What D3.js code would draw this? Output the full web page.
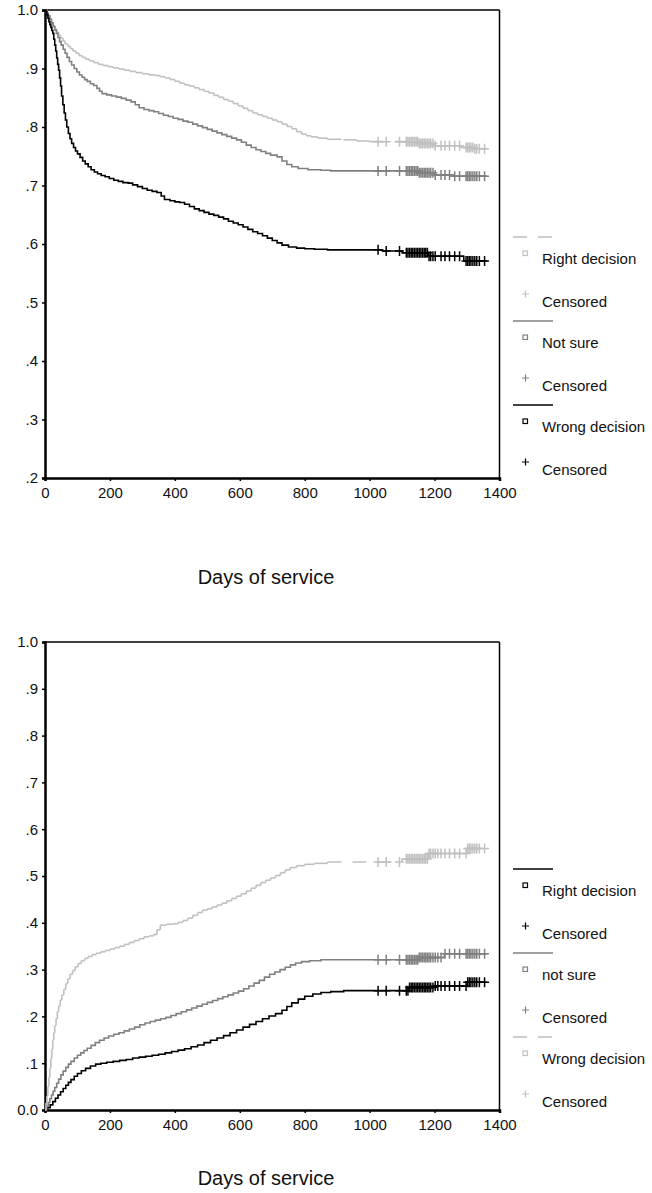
<!DOCTYPE html>
<html>
<head>
<meta charset="utf-8">
<script src="https://cdn.jsdelivr.net/npm/d3@7"></script>
<style>
  body { margin: 0; background: #fff; }
  svg { display: block; font-family: "Liberation Sans", Arial, sans-serif; }
</style>
</head>
<body>
<div id="chart"></div>
<script>
// ---- dati (giorni / valori della funzione a gradini) ----
const xTicks = [0, 200, 400, 600, 800, 1000, 1200, 1400];
const topYTicks = [0.2, 0.3, 0.4, 0.5, 0.6, 0.7, 0.8, 0.9, 1.0];
const bottomYTicks = [0, 0.1, 0.2, 0.3, 0.4, 0.5, 0.6, 0.7, 0.8, 0.9, 1.0];
const lastDay = 1362;

// grafico superiore: sopravvivenza
const rightTopDays = [0, 5, 10, 15, 20, 25, 30, 36, 42, 48, 55, 62, 70, 78, 86, 95, 105, 115, 125, 137, 150, 165, 180, 195, 210, 228, 245, 262, 280, 300, 320, 340, 355, 370, 385, 400, 415, 430, 445, 460, 475, 490, 505, 520, 535, 550, 565, 580, 595, 610, 625, 640, 655, 670, 685, 700, 715, 730, 745, 760, 775, 790, 805, 820, 840, 870, 920, 960, 1000, 1150, 1200, 1280, 1320];
const rightTopVals = [1, .995, .99, .984, .978, .972, .967, .962, .957, .952, .947, .942, .938, .934, .93, .926, .922, .919, .916, .913, .91, .907, .905, .903, .901, .899, .897, .895, .893, .891, .889, .888, .886, .884, .881, .878, .875, .872, .87, .867, .864, .861, .858, .854, .851, .847, .844, .84, .836, .832, .828, .824, .821, .818, .815, .812, .809, .805, .801, .797, .792, .788, .785, .783, .781, .779, .778, .776, .775, .772, .768, .765, .763];

const notSureTopDays = [0, 5, 10, 15, 20, 25, 30, 35, 40, 45, 50, 56, 62, 68, 75, 82, 90, 98, 106, 114, 122, 130, 140, 150, 160, 168, 176, 190, 205, 220, 235, 250, 265, 278, 290, 305, 320, 335, 350, 365, 380, 395, 410, 425, 440, 455, 470, 485, 500, 515, 530, 545, 560, 575, 590, 605, 620, 635, 650, 665, 680, 695, 715, 730, 745, 760, 780, 810, 850, 880, 1150, 1200, 1260];
const notSureTopVals = [1, .995, .99, .984, .978, .972, .966, .96, .953, .946, .94, .933, .926, .919, .912, .906, .9, .894, .889, .885, .881, .878, .874, .871, .866, .861, .857, .855, .853, .851, .849, .846, .843, .838, .833, .83, .828, .826, .823, .82, .818, .815, .813, .81, .808, .805, .802, .799, .796, .793, .79, .787, .784, .781, .778, .774, .769, .765, .761, .758, .755, .752, .749, .742, .736, .732, .729, .727, .726, .725, .722, .718, .716];

const wrongTopDays = [0, 3, 6, 9, 12, 15, 18, 21, 24, 27, 30, 33, 36, 39, 42, 45, 48, 51, 55, 59, 63, 67, 72, 77, 82, 88, 94, 100, 108, 116, 124, 133, 142, 152, 162, 173, 185, 198, 212, 226, 240, 256, 270, 285, 300, 315, 330, 345, 358, 368, 385, 400, 415, 430, 445, 460, 475, 490, 505, 520, 535, 550, 565, 580, 595, 610, 625, 640, 655, 670, 685, 700, 715, 730, 750, 775, 800, 830, 870, 1040, 1100, 1180, 1290];
const wrongTopVals = [1, .997, .992, .986, .98, .975, .97, .965, .96, .95, .94, .93, .918, .907, .897, .884, .87, .853, .838, .824, .812, .8, .789, .78, .772, .765, .759, .754, .748, .742, .737, .732, .727, .723, .72, .717, .715, .712, .709, .707, .705, .704, .701, .698, .695, .692, .69, .688, .682, .676, .674, .672, .671, .668, .664, .66, .657, .654, .651, .649, .646, .643, .639, .636, .633, .629, .625, .621, .618, .614, .61, .606, .602, .598, .595, .593, .592, .591, .59, .588, .585, .579, .571];

const censorDaysTop = [1026, 1051, 1092, 1113, 1118, 1123, 1128, 1133, 1138, 1143, 1148, 1153, 1158, 1163, 1168, 1173, 1178, 1183, 1188, 1195, 1202, 1220, 1232, 1246, 1262, 1277, 1297, 1302, 1307, 1312, 1318, 1324, 1330, 1338, 1354];

// grafico inferiore: incidenza cumulata
const rightBotDays = [0, 8, 16, 24, 32, 40, 48, 56, 64, 72, 80, 90, 100, 112, 125, 140, 156, 172, 190, 210, 230, 250, 270, 290, 310, 330, 350, 370, 390, 410, 430, 450, 470, 490, 510, 530, 550, 570, 590, 610, 630, 650, 670, 690, 710, 730, 745, 760, 780, 800, 825, 850, 880, 920, 1120, 1200, 1300];
const rightBotVals = [0, .005, .011, .018, .025, .032, .039, .046, .053, .059, .065, .072, .078, .084, .089, .094, .098, .1, .102, .104, .106, .108, .111, .113, .115, .117, .119, .122, .125, .128, .131, .135, .139, .144, .149, .154, .159, .165, .171, .177, .183, .189, .195, .201, .206, .213, .221, .229, .237, .243, .248, .251, .253, .255, .262, .265, .273];

const notSureBotDays = [0, 5, 10, 15, 20, 25, 30, 36, 42, 49, 56, 64, 72, 80, 90, 100, 110, 120, 130, 142, 155, 168, 182, 196, 212, 228, 244, 260, 276, 292, 308, 324, 340, 356, 372, 388, 404, 420, 436, 452, 468, 484, 500, 516, 532, 548, 564, 580, 596, 612, 628, 644, 660, 676, 692, 708, 724, 740, 756, 772, 790, 815, 850, 1150, 1230];
const notSureBotVals = [0, .008, .016, .024, .032, .04, .048, .057, .066, .075, .083, .091, .098, .104, .111, .117, .122, .127, .132, .138, .144, .149, .154, .158, .162, .165, .169, .173, .177, .182, .186, .189, .192, .195, .198, .202, .206, .21, .214, .218, .222, .226, .23, .234, .238, .242, .246, .25, .254, .259, .265, .271, .277, .284, .29, .295, .3, .305, .31, .314, .317, .319, .321, .326, .334];

const wrongBotDays = [0, 3, 6, 9, 12, 15, 18, 21, 24, 27, 30, 34, 38, 42, 47, 52, 58, 64, 70, 77, 85, 93, 102, 112, 122, 133, 145, 158, 172, 186, 200, 215, 230, 245, 260, 275, 290, 305, 320, 335, 345, 355, 375, 395, 410, 425, 440, 455, 470, 485, 500, 515, 530, 545, 560, 575, 590, 605, 620, 635, 650, 665, 680, 695, 710, 725, 740, 755, 775, 800, 830, 870, 1100, 1180, 1300];
const wrongBotVals = [0, .015, .03, .05, .07, .09, .11, .13, .15, .165, .18, .195, .21, .222, .235, .246, .258, .27, .28, .29, .298, .306, .313, .319, .324, .328, .332, .335, .338, .341, .344, .347, .35, .354, .358, .362, .366, .37, .372, .375, .385, .395, .397, .398, .401, .405, .41, .416, .422, .427, .43, .434, .438, .442, .447, .452, .457, .462, .468, .474, .48, .486, .491, .496, .501, .507, .513, .518, .522, .525, .527, .53, .537, .548, .559];

const censorDaysBottom = [1026, 1051, 1092, 1113, 1118, 1123, 1128, 1133, 1138, 1143, 1148, 1153, 1158, 1163, 1168, 1173, 1178, 1183, 1188, 1195, 1202, 1210, 1220, 1232, 1246, 1262, 1277, 1297, 1302, 1307, 1312, 1318, 1324, 1330, 1338, 1354];

const LIGHT = "#c0c0c0", MID = "#808080", DARK = "#000000";

const panels = [
    {
        top: 10, yDomain: [0.2, 1.0], yTicks: topYTicks, censor: censorDaysTop, titleY: 584,
        series: [
            { name: "Right decision", days: rightTopDays, vals: rightTopVals, color: LIGHT, dashed: true },
            { name: "Not sure", days: notSureTopDays, vals: notSureTopVals, color: MID, dashed: false },
            { name: "Wrong decision", days: wrongTopDays, vals: wrongTopVals, color: DARK, dashed: false }
        ]
    },
    {
        top: 642, yDomain: [0, 1.0], yTicks: bottomYTicks, censor: censorDaysBottom, titleY: 1185,
        series: [
            { name: "Right decision", days: rightBotDays, vals: rightBotVals, color: DARK, dashed: false },
            { name: "not sure", days: notSureBotDays, vals: notSureBotVals, color: MID, dashed: false },
            { name: "Wrong decision", days: wrongBotDays, vals: wrongBotVals, color: LIGHT, dashed: true }
        ]
    }
];

const W = 652, H = 1193;
const PLOT_LEFT = 45, PLOT_RIGHT = 499.5, PLOT_H = 468;

const svg = d3.select("#chart").append("svg")
    .attr("width", W).attr("height", H)
    .attr("viewBox", `0 0 ${W} ${H}`);

const x = d3.scaleLinear().domain([0, 1400]).range([PLOT_LEFT, PLOT_RIGHT]);

// valore della funzione a gradini in un dato giorno
function stepValue(s, day) {
    const i = d3.bisectRight(s.days, day) - 1;
    return s.vals[Math.max(0, i)];
}

function fmtY(v) {
    if (v === 0) return "0.0";
    if (v === 1) return "1.0";
    return "." + Math.round(v * 10);
}

panels.forEach(p => {
    const g = svg.append("g");
    const bottom = p.top + PLOT_H;
    const y = d3.scaleLinear().domain(p.yDomain).range([bottom, p.top]);

    // cornice
    g.append("line").attr("x1", PLOT_LEFT).attr("x2", PLOT_RIGHT).attr("y1", p.top).attr("y2", p.top)
        .attr("stroke", "#000").attr("stroke-width", 1.5);
    g.append("line").attr("x1", PLOT_RIGHT).attr("x2", PLOT_RIGHT).attr("y1", p.top).attr("y2", bottom)
        .attr("stroke", "#000").attr("stroke-width", 1.5);

    // assi
    const yAxis = d3.axisLeft(y).tickValues(p.yTicks).tickFormat(fmtY).tickSize(3).tickPadding(4);
    const gy = g.append("g").attr("transform", `translate(${PLOT_LEFT},0)`).call(yAxis);
    const xAxis = d3.axisBottom(x).tickValues(xTicks).tickFormat(d3.format("d")).tickSize(3).tickPadding(6);
    const gx = g.append("g").attr("transform", `translate(0,${bottom})`).call(xAxis);
    [gx, gy].forEach(a => {
        a.select(".domain").attr("stroke-width", 2.5);
        a.selectAll(".tick line").attr("stroke-width", 1.5);
        a.selectAll(".tick text").attr("font-size", 15).attr("fill", "#111")
            .attr("font-family", "'Liberation Sans', Arial, sans-serif");
    });

    g.append("text")
        .attr("x", 266).attr("y", p.titleY)
        .attr("text-anchor", "middle")
        .attr("font-size", 20)
        .attr("fill", "#111")
        .text("Days of service");

    // curve
    p.series.forEach(s => {
        const pts = s.days.map((d, i) => [d, s.vals[i]]);
        pts.push([lastDay, s.vals[s.vals.length - 1]]);
        if (!s.dashed) {
            const line = d3.line().x(d => x(d[0])).y(d => y(d[1])).curve(d3.curveStepAfter);
            g.append("path").datum(pts)
                .attr("d", line)
                .attr("fill", "none")
                .attr("stroke", s.color)
                .attr("stroke-width", 1.6);
        } else {
            // tratteggio applicato a ogni segmento, come fa SPSS
            for (let i = 0; i < pts.length - 1; i++) {
                const [d0, v0] = pts[i], [d1, v1] = pts[i + 1];
                g.append("line")
                    .attr("x1", x(d0)).attr("x2", x(d1)).attr("y1", y(v0)).attr("y2", y(v0))
                    .attr("stroke", s.color).attr("stroke-width", 1.6)
                    .attr("stroke-dasharray", "14,11");
                if (v1 !== v0) {
                    g.append("line")
                        .attr("x1", x(d1)).attr("x2", x(d1)).attr("y1", y(v0)).attr("y2", y(v1))
                        .attr("stroke", s.color).attr("stroke-width", 1.6);
                }
            }
        }

        // censurati
        g.append("g").selectAll("path.cens")
            .data(p.censor)
            .enter()
            .append("path")
            .attr("class", "cens")
            .attr("d", d => {
                const cx = x(d), cy = y(stepValue(s, d));
                return `M${cx - 4.5},${cy}H${cx + 4.5}M${cx},${cy - 5}V${cy + 5}`;
            })
            .attr("stroke", s.color)
            .attr("stroke-width", 1.5)
            .attr("fill", "none");
    });

    // legenda
    const leg = g.append("g").attr("transform", `translate(0,${p.top + 227})`);
    p.series.forEach((s, i) => {
        const y0 = i * 84;
        leg.append("line")
            .attr("x1", 513).attr("x2", 553).attr("y1", y0).attr("y2", y0)
            .attr("stroke", s.color).attr("stroke-width", 1.5)
            .attr("stroke-dasharray", s.dashed ? "14,11" : null);
        leg.append("rect")
            .attr("x", 523).attr("y", y0 + 14).attr("width", 4.5).attr("height", 4.5)
            .attr("fill", "none").attr("stroke", s.color).attr("stroke-width", 1.2);
        leg.append("text")
            .attr("x", 542).attr("y", y0 + 22).attr("dy", "0.35em")
            .attr("font-size", 15).attr("fill", "#111")
            .text(s.name);
        leg.append("path")
            .attr("d", `M${522},${y0 + 57}H${529}M${525.5},${y0 + 53.5}V${y0 + 60.5}`)
            .attr("stroke", s.color).attr("stroke-width", 1.2);
        leg.append("text")
            .attr("x", 542).attr("y", y0 + 65).attr("dy", "0.35em")
            .attr("font-size", 15).attr("fill", "#111")
            .text("Censored");
    });
});
</script>
</body>
</html>
